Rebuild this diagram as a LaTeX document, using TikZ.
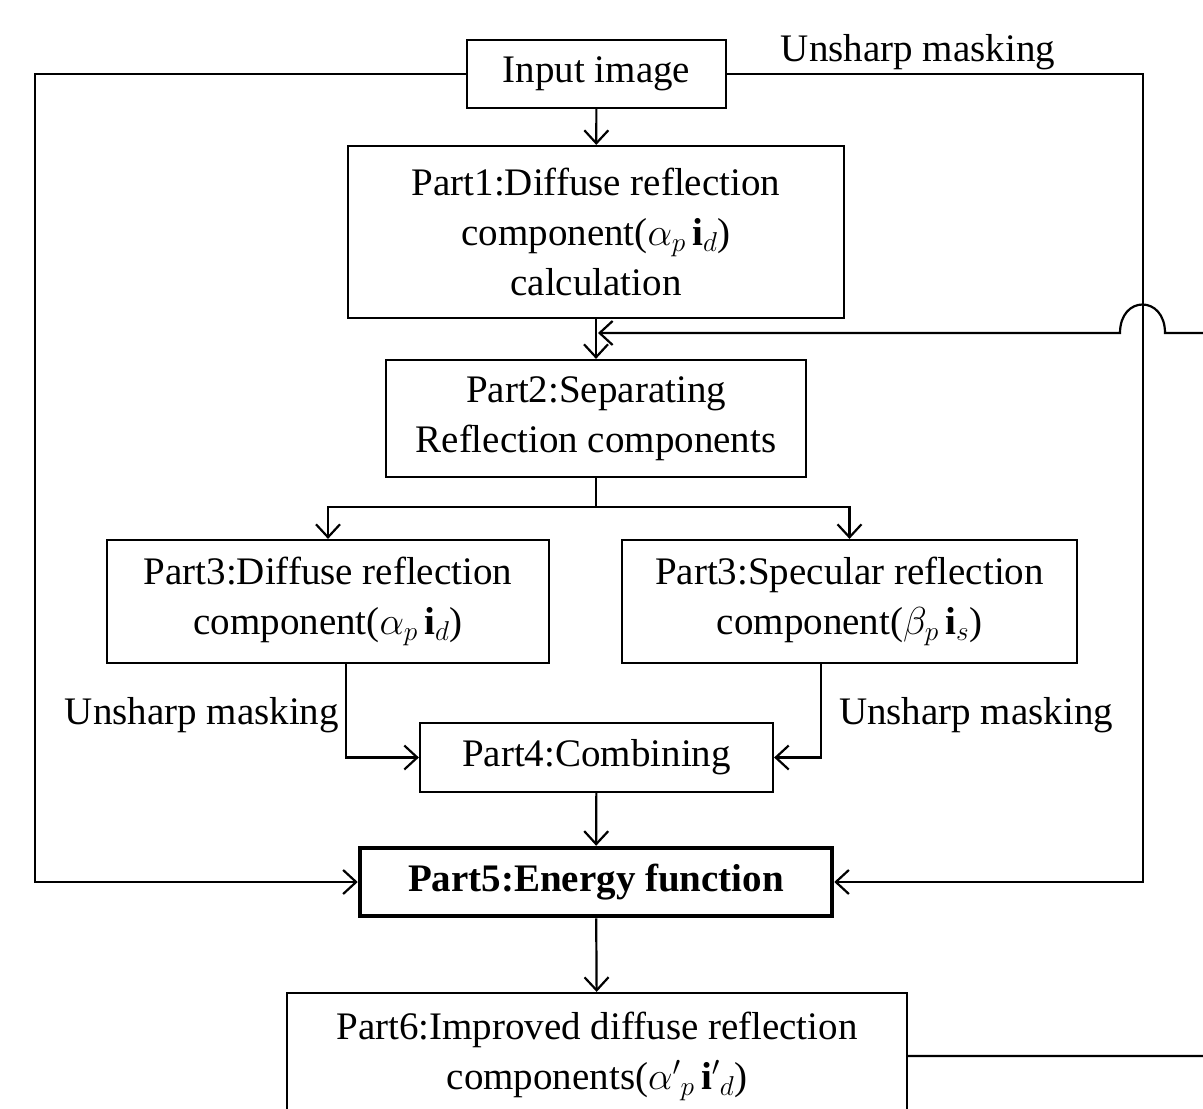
\documentclass[tikz,border=0pt]{standalone}
\usepackage{fix-cm}
\usepackage{fontspec}
\setmainfont{Liberation Serif}
\usetikzlibrary{arrows.meta}
\begin{document}
\begin{tikzpicture}[x=1pt,y=-1pt,
  line width=2.2pt,
  box/.style={draw,line width=2.2pt,inner sep=0pt,align=center,font=\fontsize{39}{50}\selectfont},
  lbl/.style={inner sep=0pt,font=\fontsize{39}{50}\selectfont},
  arr/.style={-{Straight Barb[length=13pt,width=24pt]}}]
\useasboundingbox (0,0) rectangle (1203,1109);
\clip (0,0) rectangle (1203,1109);
\node[box,minimum width=259pt,minimum height=68pt] (in) at (596.5,74) {Input image};
\node[box,minimum width=496pt,minimum height=172pt] (p1) at (596,232) {Part1:Diffuse reflection\\component($\alpha_p\,\mathbf{i}_d$)\\calculation};
\node[box,minimum width=420pt,minimum height=117pt] (p2) at (596,418.5) {Part2:Separating\\Reflection components};
\node[box,minimum width=442pt,minimum height=123pt] (p3l) at (328,601.5) {Part3:Diffuse reflection\\component($\alpha_p\,\mathbf{i}_d$)};
\node[box,minimum width=455pt,minimum height=123pt] (p3r) at (849.5,601.5) {Part3:Specular reflection\\component($\beta_p\,\mathbf{i}_s$)};
\node[box,minimum width=353pt,minimum height=69pt] (p4) at (596.5,757.5) {Part4:Combining};
\node[box,line width=4.5pt,minimum width=472pt,minimum height=68pt,font=\fontsize{39}{50}\selectfont\bfseries] (p5) at (596,882) {Part5:Energy function};
\node[box,minimum width=620pt,minimum height=126pt] (p6) at (597,1056) {Part6:Improved diffuse reflection\\components($\alpha'{}_p\,\mathbf{i}'{}_d$)};
% labels
\node[lbl] (l1) at (918,52) {Unsharp masking};
\node[lbl,anchor=east] (l2) at (340,715) {Unsharp masking};
\node[lbl,anchor=west] (l3) at (838,715) {Unsharp masking};
% coordinates
\coordinate (tl) at (35,74);
\coordinate (tr) at (1143,74);
\coordinate (split) at (596,507);
\coordinate (fbR) at (1215,333);
\coordinate (fbA) at (1165,333);
\coordinate (fbB) at (1120,333);
\coordinate (fbT) at (598,333);
% connectors
\draw[arr] (in) -- (p1);
\draw[arr] (p1) -- (p2);
\draw (p2.south) -- (split);
\draw[arr] (split) -| (p3l.north);
\draw[arr] (split) -| (p3r.north);
\draw[arr] ([xshift=18pt]p3l.south) |- (p4.west);
\draw[arr] ([xshift=-28.5pt]p3r.south) |- (p4.east);
\draw[arr] (p4) -- (p5);
\draw[arr] (in.west) -- (tl) |- (p5.west);
\draw[arr] (in.east) -- (tr) |- (p5.east);
\draw[arr] (p5) -- (p6);
\draw[arr] (p6.east) -| (fbR) -- (fbA) .. controls (1165,295) and (1120,295) .. (fbB) -- (fbT);
\end{tikzpicture}
\end{document}
